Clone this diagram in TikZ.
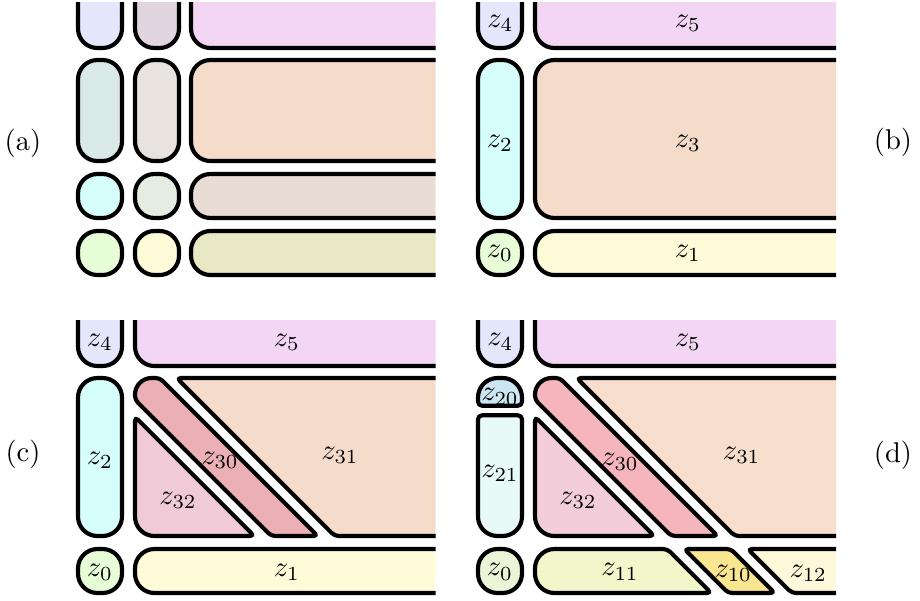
\documentclass[tikz,border=0pt]{standalone}
\definecolor{cA}{HTML}{E4E6FB}
\definecolor{cB}{HTML}{E1D6DF}
\definecolor{cC}{HTML}{F3D6F3}
\definecolor{cD}{HTML}{D9E9E7}
\definecolor{cE}{HTML}{E9E3E0}
\definecolor{cF}{HTML}{F5DCCA}
\definecolor{cG}{HTML}{D6FFFB}
\definecolor{cH}{HTML}{E5EDE0}
\definecolor{cI}{HTML}{E9DCD4}
\definecolor{cJ}{HTML}{E7FDD8}
\definecolor{cK}{HTML}{FEFCD8}
\definecolor{cL}{HTML}{E8E8C4}
\definecolor{cThirtyC}{HTML}{EBB0B5}
\definecolor{cThirtyTwoC}{HTML}{F1CAD7}
\definecolor{cThirtyD}{HTML}{F5B5BD}
\definecolor{cThirtyTwoD}{HTML}{F3CDDA}
\definecolor{cThirtyOneD}{HTML}{F8DECC}
\definecolor{cTwenty}{HTML}{CCE6F4}
\definecolor{cTwentyOne}{HTML}{E8FAF8}
\definecolor{cEleven}{HTML}{F3F6CA}
\definecolor{cTen}{HTML}{FAE590}
\definecolor{cTwelve}{HTML}{FEF8DB}
\definecolor{cZeroD}{HTML}{EAF5D7}
\begin{document}
\begin{tikzpicture}[x=0.35pt,y=-0.35pt,
  cell/.style={draw=black,line width=1.45pt,line join=round,rounded corners=6.8pt},
  sharp/.style={draw=black,line width=1.45pt,line join=round,rounded corners=1.4pt},
  big/.style={rounded corners=6.8pt},
  small/.style={rounded corners=1.4pt},
  lbl/.style={inner sep=0pt},
  tag/.style={inner sep=0pt}]
\useasboundingbox (0,0) rectangle (920,600);

% ---------- (a) product partition ----------
\begin{scope}
  \clip (0,2.5) rectangle (435.5,300);
  \path[cell,fill=cA] (78,-20) rectangle (122,48);
  \path[cell,fill=cB] (135,-20) rectangle (179,48);
  \path[cell,fill=cC] (191,-20) rectangle (470,48);
  \path[cell,fill=cD] (78,60) rectangle (122,161);
  \path[cell,fill=cE] (135,60) rectangle (179,161);
  \path[cell,fill=cF] (191,60) rectangle (470,161);
  \path[cell,fill=cG] (78,174) rectangle (122,218);
  \path[cell,fill=cH] (135,174) rectangle (179,218);
  \path[cell,fill=cI] (191,174) rectangle (470,218);
  \path[cell,fill=cJ] (78,231) rectangle (122,275);
  \path[cell,fill=cK] (135,231) rectangle (179,275);
  \path[cell,fill=cL] (191,231) rectangle (470,275);
\end{scope}
\node[tag] (ta) at (23,143) {(a)};

% ---------- (b) ----------
\begin{scope}[shift={(400,0)}]
  \begin{scope}
    \clip (0,2.5) rectangle (436,300);
    \path[cell,fill=cA] (78,-20) rectangle (122,48);
    \path[cell,fill=cC] (135,-20) rectangle (470,48);
    \path[cell,fill=cG] (78,60) rectangle (122,218);
    \path[cell,fill=cF] (135,60) rectangle (470,218);
    \path[cell,fill=cJ] (78,231) rectangle (122,275);
    \path[cell,fill=cK] (135,231) rectangle (470,275);
  \end{scope}
  \node[lbl] (b4) at (100.5,23) {$z_{4}$};
  \node[lbl] (b5) at (288,23) {$z_{5}$};
  \node[lbl] (b2) at (100,143) {$z_{2}$};
  \node[lbl] (b3) at (288,143) {$z_{3}$};
  \node[lbl] (b0) at (100,253) {$z_{0}$};
  \node[lbl] (b1) at (288,253) {$z_{1}$};
\end{scope}
\node[tag] (tb) at (893,142) {(b)};

% ---------- (c) ----------
\begin{scope}[shift={(0,318)}]
  \begin{scope}
    \clip (0,2) rectangle (435.5,300);
    \path[cell,fill=cA] (78,-20) rectangle (122,48);
    \path[cell,fill=cC] (135,-20) rectangle (470,48);
    \path[cell,fill=cG] (78,60) rectangle (122,218);
    % z32
    \path[sharp,fill=cThirtyTwoC] (135,98.8) -- (135,190) [big] -- (135,218) [small] -- (254.2,218) -- cycle;
    % z30
    \path[sharp,fill=cThirtyC] (135,81.8) [rounded corners=5.8pt] -- (135,60) [small] -- (159.8,60) -- (317.8,218) -- (271.2,218) -- cycle;
    % z31
    \path[sharp,fill=cF] (176.8,60) -- (470,60) -- (470,218) -- (334.8,218) -- cycle;
    \path[cell,fill=cJ] (78,231) rectangle (122,275);
    \path[cell,fill=cK] (135,231) rectangle (470,275);
  \end{scope}
  \node[lbl] (c4) at (100,24) {$z_{4}$};
  \node[lbl] (c5) at (287,24) {$z_{5}$};
  \node[lbl] (c2) at (100,142) {$z_{2}$};
  \node[lbl] (c30) at (220,142) {$z_{30}$};
  \node[lbl] (c31) at (340,137) {$z_{31}$};
  \node[lbl] (c32) at (178,182) {$z_{32}$};
  \node[lbl] (c0) at (100,254) {$z_{0}$};
  \node[lbl] (c1) at (287,254) {$z_{1}$};
\end{scope}
\node[tag] (tc) at (23,454) {(c)};

% ---------- (d) ----------
\begin{scope}[shift={(400,318)}]
  \begin{scope}
    \clip (0,2) rectangle (436,300);
    \path[cell,fill=cA] (78,-20) rectangle (122,48);
    \path[cell,fill=cC] (135,-20) rectangle (470,48);
    % z20 and z21
    \path[sharp,fill=cTwenty] (78,87.7) [big] -- (78,60) -- (122,60) [small] -- (122,87.7) -- cycle;
    \path[sharp,fill=cTwentyOne] (78,97.3) -- (122,97.3) [big] -- (122,218) -- (78,218) [small] -- cycle;
    % z32
    \path[sharp,fill=cThirtyTwoD] (135,98.8) -- (135,190) [big] -- (135,218) [small] -- (254.2,218) -- cycle;
    % z30
    \path[sharp,fill=cThirtyD] (135,81.8) [rounded corners=5.8pt] -- (135,60) [small] -- (159.8,60) -- (317.8,218) -- (271.2,218) -- cycle;
    % z31
    \path[sharp,fill=cThirtyOneD] (176.8,60) -- (470,60) -- (470,218) -- (334.8,218) -- cycle;
    \path[cell,fill=cZeroD] (78,231) rectangle (122,275);
    % z11, z10, z12
    \path[sharp,fill=cEleven] (170,231) [small] -- (267.2,231) -- (311.2,275) [big] -- (135,275) -- (135,231) [small] -- cycle;
    \path[sharp,fill=cTen] (284.2,231) -- (330.8,231) -- (374.8,275) -- (328.2,275) -- cycle;
    \path[sharp,fill=cTwelve] (347.8,231) -- (470,231) -- (470,275) -- (391.8,275) -- cycle;
  \end{scope}
  \node[lbl] (d4) at (100.5,23.7) {$z_{4}$};
  \node[lbl] (d5) at (288,24) {$z_{5}$};
  \node[lbl] (d20) at (100,78.7) {$z_{20}$};
  \node[lbl] (d21) at (100,155) {$z_{21}$};
  \node[lbl] (d30) at (220,143.7) {$z_{30}$};
  \node[lbl] (d31) at (341.7,137) {$z_{31}$};
  \node[lbl] (d32) at (178,182) {$z_{32}$};
  \node[lbl] (d0) at (100,253.7) {$z_{0}$};
  \node[lbl] (d11) at (220,253.7) {$z_{11}$};
  \node[lbl] (d10) at (333.3,255) {$z_{10}$};
  \node[lbl] (d12) at (408.3,255) {$z_{12}$};
\end{scope}
\node[tag] (td) at (893,455) {(d)};
\end{tikzpicture}
\end{document}
